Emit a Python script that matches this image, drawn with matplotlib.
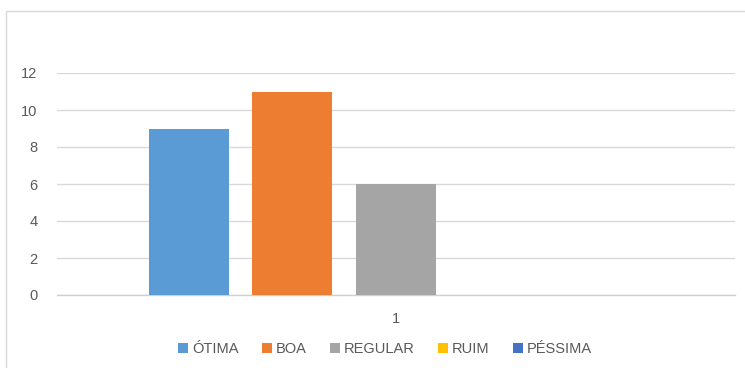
import matplotlib
matplotlib.use("Agg")
import matplotlib.pyplot as plt
from matplotlib.patches import Rectangle

plt.rcParams['font.family'] = ['Liberation Sans Narrow', 'Liberation Sans', 'DejaVu Sans']

categories = ["1"]
series_names = ["ÓTIMA", "BOA", "REGULAR", "RUIM", "PÉSSIMA"]
series_values = [9, 11, 6, 0, 0]
series_colors = ["#5B9BD5", "#ED7D31", "#A5A5A5", "#FFC000", "#4472C4"]
yticks = [0, 2, 4, 6, 8, 10, 12]

W, H = 745, 368
fig = plt.figure(figsize=(W / 100, H / 100), dpi=100)
ax = fig.add_axes([57 / W, 1 - 295 / H, (735 - 57) / W, (295 - 73) / H])

# chart border
fig.patches.append(Rectangle((6 / W, -0.1), 1.2, 1 - 11 / H + 0.1, transform=fig.transFigure,
                             fill=False, edgecolor="#d9d9d9", linewidth=1.0, zorder=0))

n = len(series_names)
bar_w = 80 / 678
step = 103.5 / 678
for i, (name, val, col) in enumerate(zip(series_names, series_values, series_colors)):
    off = (i - (n - 1) / 2) * step
    ax.bar([0 + off], [val], width=bar_w, color=col, label=name, zorder=3)

ax.set_xlim(-0.5, 0.5)
ax.set_ylim(0, 12)
ax.set_yticks(yticks)
ax.set_xticks([0])
ax.set_xticklabels(categories)
ax.grid(axis="y", color="#d9d9d9", linewidth=1.0, zorder=0)
for s in ["top", "right", "left"]:
    ax.spines[s].set_visible(False)
ax.spines["bottom"].set_color("#d0d0d0")
ax.spines["bottom"].set_linewidth(1.0)
ax.tick_params(axis="both", length=0, colors="#595959", labelsize=10.5)
ax.tick_params(axis="y", pad=14)
ax.tick_params(axis="x", pad=12)

leg = ax.legend(loc="center", bbox_to_anchor=(385 / W, 1 - 349 / H), bbox_transform=fig.transFigure,
                ncol=5, frameon=False, fontsize=10.5, handlelength=0.7, handleheight=0.7,
                handletextpad=0.25, columnspacing=1.6, labelcolor="#595959")

fig.savefig("out.png", dpi=100)
